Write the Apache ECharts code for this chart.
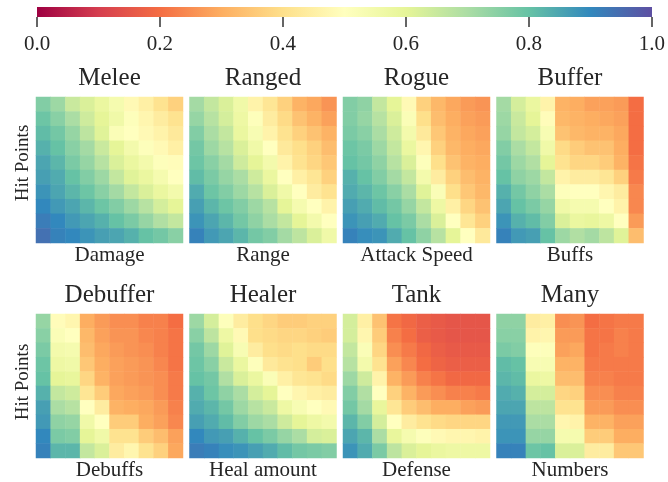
<!DOCTYPE html>
<html>
<head>
<meta charset="utf-8">
<script src="https://cdn.jsdelivr.net/npm/echarts@6/dist/echarts.min.js"></script>
<style>
  html, body { margin: 0; padding: 0; background: #fff; }
  #chart { width: 668px; height: 482px; }
</style>
</head>
<body>
<div id="chart"></div>
<script>
// Panel titles (unit classes) and the stat on each panel's horizontal axis
const classNames = ['Melee', 'Ranged', 'Rogue', 'Buffer', 'Debuffer', 'Healer', 'Tank', 'Many'];
const statNames = ['Damage', 'Range', 'Attack Speed', 'Buffs', 'Debuffs', 'Heal amount', 'Defense', 'Numbers'];
const colorTicks = [0.0, 0.2, 0.4, 0.6, 0.8, 1.0];

// Each grid: 10 rows, from highest hit points (top) to lowest (bottom);
// columns run from low to high value of the panel's stat.
const melee = [
  [0.76, 0.72, 0.65, 0.62, 0.58, 0.54, 0.48, 0.45, 0.41, 0.37],
  [0.79, 0.75, 0.70, 0.64, 0.60, 0.56, 0.51, 0.47, 0.44, 0.41],
  [0.81, 0.78, 0.73, 0.67, 0.61, 0.52, 0.50, 0.48, 0.46, 0.43],
  [0.83, 0.80, 0.75, 0.71, 0.65, 0.60, 0.55, 0.51, 0.48, 0.45],
  [0.85, 0.82, 0.77, 0.73, 0.68, 0.62, 0.58, 0.55, 0.51, 0.49],
  [0.86, 0.84, 0.80, 0.76, 0.72, 0.66, 0.61, 0.58, 0.54, 0.50],
  [0.88, 0.85, 0.82, 0.79, 0.75, 0.71, 0.66, 0.62, 0.58, 0.55],
  [0.90, 0.87, 0.85, 0.82, 0.79, 0.76, 0.72, 0.68, 0.63, 0.60],
  [0.92, 0.90, 0.87, 0.85, 0.83, 0.80, 0.77, 0.73, 0.69, 0.66],
  [0.94, 0.91, 0.90, 0.88, 0.86, 0.85, 0.83, 0.80, 0.78, 0.75]
];
const ranged = [
  [0.71, 0.66, 0.62, 0.56, 0.46, 0.42, 0.37, 0.31, 0.29, 0.26],
  [0.73, 0.68, 0.63, 0.57, 0.51, 0.44, 0.39, 0.34, 0.31, 0.28],
  [0.76, 0.70, 0.66, 0.58, 0.53, 0.46, 0.41, 0.37, 0.34, 0.31],
  [0.78, 0.72, 0.68, 0.62, 0.56, 0.50, 0.43, 0.40, 0.37, 0.33],
  [0.79, 0.75, 0.71, 0.64, 0.60, 0.55, 0.46, 0.41, 0.38, 0.35],
  [0.81, 0.77, 0.73, 0.70, 0.64, 0.58, 0.50, 0.45, 0.42, 0.37],
  [0.84, 0.79, 0.76, 0.72, 0.68, 0.62, 0.56, 0.50, 0.44, 0.41],
  [0.86, 0.82, 0.79, 0.76, 0.72, 0.68, 0.60, 0.54, 0.50, 0.46],
  [0.88, 0.85, 0.82, 0.78, 0.74, 0.70, 0.66, 0.60, 0.55, 0.50],
  [0.91, 0.87, 0.85, 0.82, 0.78, 0.76, 0.71, 0.67, 0.62, 0.56]
];
const rogue = [
  [0.76, 0.74, 0.66, 0.60, 0.48, 0.37, 0.32, 0.29, 0.27, 0.26],
  [0.76, 0.73, 0.68, 0.62, 0.52, 0.40, 0.33, 0.30, 0.28, 0.27],
  [0.77, 0.75, 0.70, 0.64, 0.55, 0.43, 0.35, 0.31, 0.29, 0.28],
  [0.79, 0.77, 0.72, 0.66, 0.58, 0.47, 0.37, 0.32, 0.30, 0.29],
  [0.80, 0.78, 0.74, 0.68, 0.62, 0.51, 0.40, 0.34, 0.31, 0.30],
  [0.83, 0.80, 0.76, 0.71, 0.66, 0.55, 0.44, 0.37, 0.33, 0.31],
  [0.84, 0.82, 0.79, 0.75, 0.70, 0.61, 0.52, 0.40, 0.35, 0.32],
  [0.86, 0.84, 0.81, 0.78, 0.73, 0.66, 0.57, 0.45, 0.38, 0.34],
  [0.88, 0.86, 0.84, 0.80, 0.77, 0.70, 0.62, 0.50, 0.42, 0.37],
  [0.91, 0.89, 0.88, 0.84, 0.80, 0.74, 0.68, 0.60, 0.50, 0.43]
];
const buffer = [
  [0.71, 0.63, 0.58, 0.46, 0.31, 0.30, 0.28, 0.28, 0.27, 0.20],
  [0.72, 0.65, 0.60, 0.49, 0.32, 0.31, 0.30, 0.29, 0.28, 0.20],
  [0.73, 0.66, 0.63, 0.53, 0.34, 0.32, 0.31, 0.31, 0.29, 0.20],
  [0.76, 0.70, 0.66, 0.56, 0.39, 0.36, 0.34, 0.34, 0.30, 0.20],
  [0.78, 0.72, 0.69, 0.60, 0.41, 0.38, 0.38, 0.36, 0.31, 0.21],
  [0.80, 0.74, 0.72, 0.66, 0.46, 0.44, 0.44, 0.42, 0.37, 0.22],
  [0.83, 0.78, 0.74, 0.70, 0.51, 0.50, 0.50, 0.47, 0.44, 0.24],
  [0.85, 0.80, 0.77, 0.73, 0.56, 0.54, 0.54, 0.50, 0.46, 0.24],
  [0.88, 0.83, 0.81, 0.76, 0.62, 0.58, 0.59, 0.57, 0.50, 0.27],
  [0.91, 0.87, 0.86, 0.80, 0.72, 0.69, 0.71, 0.67, 0.61, 0.33]
];
const debuffer = [
  [0.73, 0.49, 0.47, 0.30, 0.27, 0.25, 0.25, 0.23, 0.23, 0.20],
  [0.75, 0.52, 0.50, 0.32, 0.28, 0.26, 0.26, 0.24, 0.23, 0.21],
  [0.77, 0.55, 0.54, 0.33, 0.29, 0.27, 0.26, 0.25, 0.23, 0.21],
  [0.79, 0.57, 0.56, 0.35, 0.30, 0.28, 0.27, 0.26, 0.24, 0.21],
  [0.80, 0.60, 0.59, 0.38, 0.31, 0.28, 0.27, 0.26, 0.25, 0.22],
  [0.83, 0.66, 0.64, 0.42, 0.36, 0.29, 0.28, 0.27, 0.25, 0.22],
  [0.86, 0.70, 0.68, 0.50, 0.44, 0.31, 0.30, 0.29, 0.27, 0.23],
  [0.87, 0.74, 0.73, 0.56, 0.50, 0.36, 0.36, 0.30, 0.28, 0.24],
  [0.90, 0.77, 0.76, 0.60, 0.56, 0.41, 0.41, 0.36, 0.33, 0.28],
  [0.91, 0.82, 0.82, 0.66, 0.62, 0.44, 0.47, 0.41, 0.37, 0.29]
];
const healer = [
  [0.72, 0.63, 0.51, 0.44, 0.40, 0.38, 0.36, 0.36, 0.37, 0.37],
  [0.75, 0.67, 0.57, 0.48, 0.40, 0.39, 0.38, 0.38, 0.37, 0.36],
  [0.78, 0.72, 0.61, 0.53, 0.44, 0.40, 0.39, 0.40, 0.39, 0.39],
  [0.79, 0.75, 0.65, 0.58, 0.51, 0.43, 0.41, 0.40, 0.36, 0.40],
  [0.80, 0.78, 0.69, 0.62, 0.58, 0.52, 0.45, 0.42, 0.41, 0.39],
  [0.83, 0.79, 0.74, 0.70, 0.63, 0.60, 0.50, 0.47, 0.45, 0.44],
  [0.84, 0.82, 0.78, 0.72, 0.68, 0.65, 0.57, 0.53, 0.50, 0.48],
  [0.86, 0.84, 0.81, 0.76, 0.72, 0.70, 0.64, 0.60, 0.57, 0.55],
  [0.90, 0.87, 0.86, 0.83, 0.80, 0.77, 0.73, 0.70, 0.63, 0.62],
  [0.92, 0.91, 0.89, 0.88, 0.86, 0.84, 0.81, 0.78, 0.77, 0.76]
];
const tank = [
  [0.63, 0.45, 0.34, 0.21, 0.19, 0.17, 0.16, 0.15, 0.15, 0.15],
  [0.63, 0.47, 0.36, 0.23, 0.20, 0.17, 0.16, 0.15, 0.15, 0.15],
  [0.66, 0.52, 0.38, 0.25, 0.22, 0.19, 0.17, 0.16, 0.16, 0.16],
  [0.68, 0.55, 0.41, 0.28, 0.24, 0.20, 0.18, 0.17, 0.17, 0.17],
  [0.72, 0.64, 0.46, 0.31, 0.27, 0.23, 0.21, 0.19, 0.19, 0.19],
  [0.76, 0.69, 0.50, 0.37, 0.31, 0.27, 0.25, 0.23, 0.23, 0.22],
  [0.78, 0.71, 0.59, 0.42, 0.36, 0.33, 0.30, 0.30, 0.28, 0.27],
  [0.82, 0.76, 0.63, 0.50, 0.44, 0.41, 0.39, 0.38, 0.38, 0.38],
  [0.85, 0.82, 0.70, 0.59, 0.54, 0.51, 0.48, 0.47, 0.47, 0.46],
  [0.88, 0.84, 0.77, 0.67, 0.62, 0.60, 0.58, 0.57, 0.57, 0.57]
];
const many = [
  [0.74, 0.74, 0.44, 0.45, 0.25, 0.26, 0.20, 0.21, 0.22, 0.22],
  [0.75, 0.75, 0.46, 0.47, 0.27, 0.27, 0.21, 0.21, 0.23, 0.22],
  [0.77, 0.76, 0.51, 0.51, 0.28, 0.29, 0.21, 0.22, 0.23, 0.22],
  [0.81, 0.80, 0.53, 0.53, 0.31, 0.31, 0.22, 0.22, 0.22, 0.22],
  [0.82, 0.81, 0.58, 0.57, 0.33, 0.33, 0.23, 0.23, 0.22, 0.22],
  [0.84, 0.83, 0.63, 0.63, 0.38, 0.37, 0.25, 0.25, 0.23, 0.23],
  [0.85, 0.85, 0.67, 0.67, 0.41, 0.41, 0.27, 0.27, 0.25, 0.25],
  [0.87, 0.87, 0.70, 0.70, 0.47, 0.46, 0.31, 0.31, 0.28, 0.28],
  [0.88, 0.88, 0.73, 0.73, 0.54, 0.54, 0.36, 0.36, 0.30, 0.30],
  [0.91, 0.91, 0.79, 0.80, 0.62, 0.62, 0.44, 0.44, 0.35, 0.35]
];
const grids = [melee, ranged, rogue, buffer, debuffer, healer, tank, many];

// Spectral colour scale, evenly spaced over 0..1
const spectral = ['#9e0142', '#d53e4f', '#f46d43', '#fdae61', '#fee08b', '#ffffbf',
                  '#e6f598', '#abdda4', '#66c2a5', '#3288bd', '#5e4fa2'];

const FONT = '"Liberation Serif", "DejaVu Serif", serif';
const TEXT = '#262626';

// Layout
const panelLeft = [36, 189.5, 343, 496.5];
const panelTop = [97, 314];
const panelW = 147, panelH = 146;
const titleY = [78, 295];
const hpY = [163, 382];
const bar = { left: 37, top: 7, width: 615, height: 10 };

const cellIdx = [0, 1, 2, 3, 4, 5, 6, 7, 8, 9];

const gridOpts = [], xAxes = [], yAxes = [], series = [], graphics = [];

// Colour bar scale axis (grid 0)
gridOpts.push({ left: bar.left, top: bar.top, width: bar.width, height: bar.height });
xAxes.push({
  type: 'value', gridIndex: 0, min: 0, max: 1, interval: 0.2,
  axisLine: { show: false },
  axisTick: { show: true, length: 10, lineStyle: { color: '#333', width: 1.5 } },
  splitLine: { show: false },
  axisLabel: { margin: 17, fontSize: 21, fontFamily: FONT, color: TEXT,
               formatter: v => colorTicks.includes(+v.toFixed(1)) ? v.toFixed(1) : '' }
});
yAxes.push({ type: 'value', gridIndex: 0, show: false });

const stops = spectral.map((c, i) => ({ offset: i / (spectral.length - 1), color: c }));
graphics.push({
  type: 'rect', z: 10,
  shape: { x: bar.left, y: bar.top, width: bar.width, height: bar.height },
  style: { fill: new echarts.graphic.LinearGradient(0, 0, 1, 0, stops) }
});

grids.forEach((g, k) => {
  const row = Math.floor(k / 4), col = k % 4;
  const gi = k + 1;
  gridOpts.push({ left: panelLeft[col], top: panelTop[row], width: panelW, height: panelH });
  xAxes.push({
    type: 'category', gridIndex: gi, data: cellIdx,
    axisLine: { show: false }, axisTick: { show: false }, axisLabel: { show: false },
    splitLine: { show: false },
    name: statNames[k], nameLocation: 'middle', nameGap: 2,
    nameTextStyle: { fontSize: 21, fontFamily: FONT, color: TEXT }
  });
  yAxes.push({
    type: 'category', gridIndex: gi, data: cellIdx, inverse: true,
    axisLine: { show: false }, axisTick: { show: false }, axisLabel: { show: false },
    splitLine: { show: false }
  });
  const data = [];
  g.forEach((r, yi) => r.forEach((v, xi) => data.push([xi, yi, v])));
  series.push({
    type: 'heatmap', xAxisIndex: gi, yAxisIndex: gi, data,
    itemStyle: { borderWidth: 0 }, emphasis: { disabled: true }
  });
  graphics.push({
    type: 'text', x: panelLeft[col] + panelW / 2, y: titleY[row],
    style: { text: classNames[k], font: '25px ' + FONT, fill: TEXT,
             align: 'center', verticalAlign: 'middle' }
  });
});

[0, 1].forEach(r => graphics.push({
  type: 'text', x: 23, y: hpY[r], rotation: Math.PI / 2,
  style: { text: 'Hit Points', font: '19px ' + FONT, fill: TEXT,
           align: 'center', verticalAlign: 'middle' }
}));

const chart = echarts.init(document.getElementById('chart'), null, { renderer: 'canvas' });
chart.setOption({
  animation: false,
  backgroundColor: '#fff',
  grid: gridOpts,
  xAxis: xAxes,
  yAxis: yAxes,
  visualMap: {
    show: false, type: 'continuous', min: 0, max: 1,
    seriesIndex: series.map((_, i) => i), dimension: 2,
    inRange: { color: spectral }
  },
  series,
  graphic: graphics
});
</script>
</body>
</html>
